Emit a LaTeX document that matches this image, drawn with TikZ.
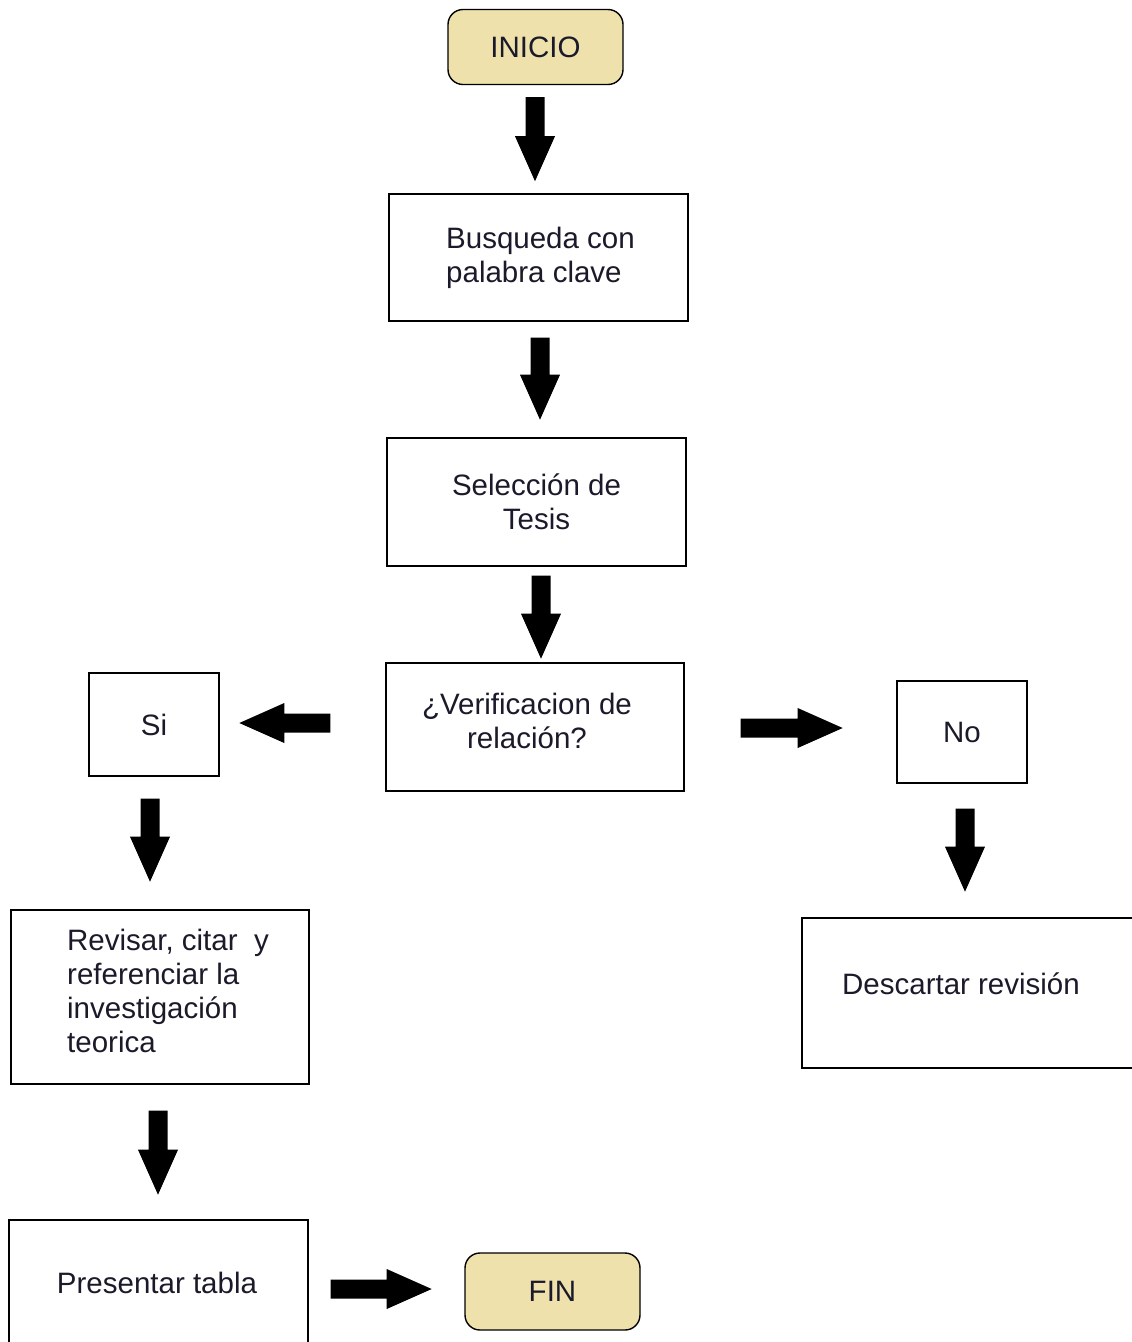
\documentclass[tikz,border=0pt]{standalone}
\usepackage{fontspec}
\setmainfont{Liberation Sans}
\usetikzlibrary{calc}
\definecolor{termfill}{HTML}{EFE1AC}
\definecolor{inkcol}{HTML}{1A1A2A}
\tikzset{
  box/.style={draw=black, line width=1.4pt, minimum width=299pt, minimum height=127pt,
    inner sep=0pt, font=\fontsize{29.5}{34}\selectfont, align=center, text=inkcol},
  term/.style={box, fill=termfill, rounded corners=15pt, minimum width=175pt, minimum height=75pt},
  smallbox/.style={box, minimum width=130pt, minimum height=103pt},
  txt/.style={font=\fontsize{29.5}{34}\selectfont, inner sep=0pt, text=inkcol},
  barr/.style={fill=black}
}
\newcommand{\blockarrow}[3]{%
  \fill[barr, shift={(#1)}, rotate=#2] (0,-9.5) -- ({#3-45},-9.5) -- ({#3-45},-20) -- (#3,0)
    -- ({#3-45},20) -- ({#3-45},9.5) -- (0,9.5) -- cycle;}
\begin{document}
\begin{tikzpicture}[x=1pt,y=1pt]
\useasboundingbox (0,0) rectangle (1132,-1342);
\fill[white] (0,0) rectangle (1132,-1342);

% nodes
\node[term] (inicio) at (535.5,-47) {INICIO};
\node[box] (busq) at (538.5,-257.5) {};
\node[txt, align=left, anchor=west] (busqtxt) at (446,-258) {Busqueda con\\palabra clave};
\node[box, minimum height=128pt] (sel) at (536.5,-502) {Selección de\\Tesis};
\node[box, minimum width=298pt, minimum height=128pt] (verif) at (535,-727) {};
\node[txt, align=center] (veriftxt) at (527,-721) {¿Verificacion de\\relación?};
\node[smallbox] (si) at (154,-724.5) {Si};
\node[smallbox, minimum height=102pt] (no) at (962,-732) {No};
\node[box, minimum width=298pt, minimum height=174pt] (rev) at (160,-997) {};
\node[txt, align=left, anchor=west] (revtxt) at (67,-991) {Revisar, citar\ \ y\\referenciar la\\investigación\\teorica};
\node[box, minimum width=338pt, minimum height=150pt] (desc) at (971,-993) {};
\node[txt, anchor=center] (desctxt) at (961,-984) {Descartar revisión};
\node[box, minimum height=130pt] (pres) at (158.5,-1285) {};
\node[txt] (prestxt) at (157,-1283) {Presentar tabla};
\node[term, minimum height=77pt] (fin) at (552.5,-1291.5) {FIN};

% arrow anchors
\coordinate (a1) at ($(inicio.south)+(-0.5,-12)$);
\coordinate (a2) at ($(busq.south)+(1.5,-16)$);
\coordinate (a3) at ($(sel.south)+(4.5,-9)$);
\coordinate (a4) at ($(verif.west)+(-55,4)$);
\coordinate (a5) at ($(verif.east)+(56,-1)$);
\coordinate (a6) at ($(si.south)+(-4,-22)$);
\coordinate (a7) at ($(no.south)+(3,-25)$);
\coordinate (a8) at ($(rev.south)+(-2,-26)$);
\coordinate (a9) at ($(pres.east)+(22,-4)$);

\blockarrow{a1}{-90}{84}
\blockarrow{a2}{-90}{82}
\blockarrow{a3}{-90}{83}
\blockarrow{a4}{180}{91}
\blockarrow{a5}{0}{102}
\blockarrow{a6}{-90}{83}
\blockarrow{a7}{-90}{83}
\blockarrow{a8}{-90}{84}
\blockarrow{a9}{0}{101}
\end{tikzpicture}
\end{document}
